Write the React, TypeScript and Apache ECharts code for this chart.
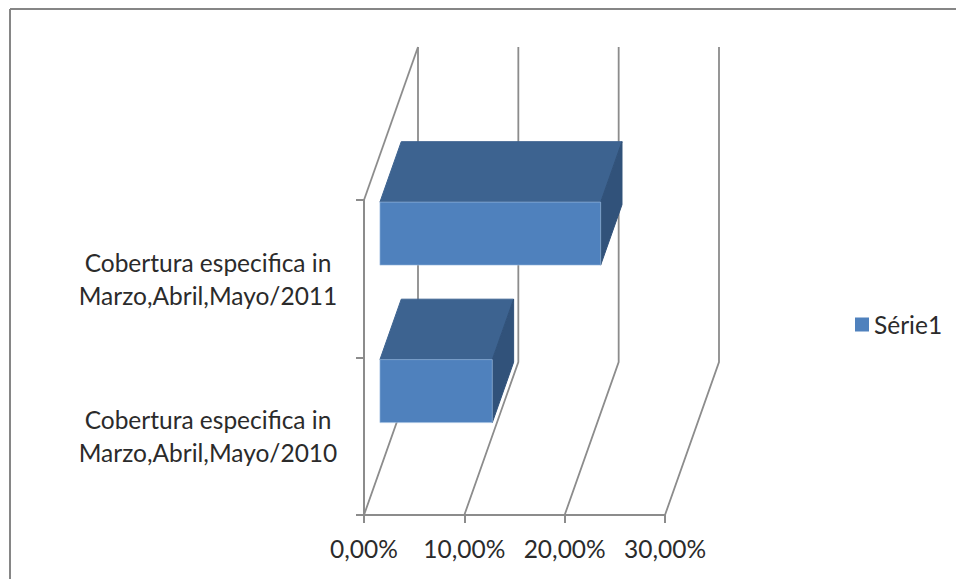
import React, { useEffect, useRef } from "react";
import * as echarts from "echarts";

const categories = [
  "Cobertura especifica in\nMarzo,Abril,Mayo/2010",
  "Cobertura especifica in\nMarzo,Abril,Mayo/2011",
];
const seriesName = "Série1";
const seriesValues = [0.112, 0.22];
const xTicks = [0, 0.1, 0.2, 0.3];

const DEPTH_X = 54;
const DEPTH_Y = -153;
const FRONT = 0.295;
const BACK = 0.69;
const BAR_BAND = 0.4;
const FONT = "Lato, 'Open Sans', sans-serif";
const TEXT = "#2b2b2b";
const AXIS = "#8c8c8c";
const FONT_SIZE = 24.5;

export default function App() {
  const ref = useRef<HTMLDivElement>(null);
  useEffect(() => {
    const chart = echarts.init(ref.current!, null, { renderer: "svg" });
    chart.setOption({
      animation: false,
      backgroundColor: "#ffffff",
      textStyle: { fontFamily: FONT },
      grid: { left: 364, top: 200, width: 301, height: 315, containLabel: false },
      legend: {
        left: 855,
        top: 312,
        orient: "vertical",
        itemWidth: 14,
        itemHeight: 14,
        itemGap: 0,
        data: [{ name: seriesName, icon: "rect" }],
        textStyle: { fontSize: FONT_SIZE, color: TEXT, fontFamily: FONT },
        padding: 0,
      },
      xAxis: {
        type: "value",
        min: 0,
        max: 0.3,
        interval: 0.1,
        splitLine: { show: false },
        axisLine: { show: true, lineStyle: { color: AXIS, width: 2 } },
        axisTick: { show: true, length: 8, lineStyle: { color: AXIS, width: 2 } },
        axisLabel: {
          margin: 21,
          fontSize: FONT_SIZE,
          color: TEXT,
          fontFamily: FONT,
          formatter: (v: number) => (v * 100).toFixed(2).replace(".", ",") + "%",
        },
      },
      yAxis: {
        type: "category",
        data: categories,
        splitLine: { show: false },
        axisLine: { show: true, lineStyle: { color: AXIS, width: 2 } },
        axisTick: { show: true, length: 8, lineStyle: { color: AXIS, width: 2 } },
        axisLabel: {
          margin: 156,
          align: "center",
          fontSize: FONT_SIZE,
          lineHeight: 33,
          color: TEXT,
          fontFamily: FONT,
        },
      },
      graphic: [
        { type: "line", shape: { x1: 10, y1: 9, x2: 956, y2: 9 }, style: { stroke: "#868686", lineWidth: 2 } },
        { type: "line", shape: { x1: 10, y1: 9, x2: 10, y2: 579 }, style: { stroke: "#868686", lineWidth: 2 } },
      ],
      series: [
        {
          type: "custom",
          name: "walls",
          silent: true,
          z: 1,
          coordinateSystem: "cartesian2d",
          data: xTicks.map((t) => [t, 0]),
          encode: { x: 0, y: 1 },
          renderItem: (_: unknown, api: any) => {
            const t = api.value(0);
            const bottom = api.coord([t, 0])[1] + api.size([0, 1])[1] / 2;
            const top = bottom - api.size([0, 1])[1] * categories.length;
            const x = api.coord([t, 0])[0];
            const children: any[] = [
              {
                type: "polyline",
                shape: {
                  points: [
                    [x, bottom],
                    [x + DEPTH_X, bottom + DEPTH_Y],
                    [x + DEPTH_X, top + DEPTH_Y],
                  ],
                },
                style: { fill: "none", stroke: AXIS, lineWidth: 1.8 },
              },
            ];
            if (t === 0) {
              children.push({
                type: "line",
                shape: { x1: x, y1: top, x2: x + DEPTH_X, y2: top + DEPTH_Y },
                style: { stroke: AXIS, lineWidth: 1.8 },
              });
            }
            return { type: "group", children };
          },
        },
        {
          type: "custom",
          name: seriesName,
          z: 2,
          coordinateSystem: "cartesian2d",
          itemStyle: { color: "#4f81bd" },
          data: seriesValues.map((v, i) => [v, i]),
          encode: { x: 0, y: 1 },
          renderItem: (_: unknown, api: any) => {
            const v = api.value(0);
            const cat = api.value(1);
            const band = api.size([0, 1])[1];
            const x0 = api.coord([0, cat])[0] + DEPTH_X * FRONT;
            const x1 = api.coord([v, cat])[0] + DEPTH_X * FRONT;
            const cy = api.coord([0, cat])[1] + DEPTH_Y * FRONT;
            const y0 = cy - (band * BAR_BAND) / 2;
            const y1 = cy + (band * BAR_BAND) / 2;
            const dx = DEPTH_X * (BACK - FRONT);
            const dy = DEPTH_Y * (BACK - FRONT);
            return {
              type: "group",
              children: [
                {
                  type: "polygon",
                  shape: { points: [[x0, y0], [x1, y0], [x1 + dx, y0 + dy], [x0 + dx, y0 + dy]] },
                  style: { fill: "#3d6390", stroke: "#3d6390", lineWidth: 1 },
                },
                {
                  type: "polygon",
                  shape: { points: [[x1, y0], [x1 + dx, y0 + dy], [x1 + dx, y1 + dy], [x1, y1]] },
                  style: { fill: "#31527a", stroke: "#31527a", lineWidth: 1 },
                },
                {
                  type: "rect",
                  shape: { x: x0, y: y0, width: x1 - x0, height: y1 - y0 },
                  style: { fill: "#4f81bd", stroke: "rgba(160,190,225,0.6)", lineWidth: 1 },
                },
              ],
            };
          },
        },
      ],
    });
    return () => chart.dispose();
  }, []);
  return (
    <div
      ref={ref}
      style={{ position: "fixed", left: 0, top: 0, width: 956, height: 579, overflow: "hidden" }}
    />
  );
}
